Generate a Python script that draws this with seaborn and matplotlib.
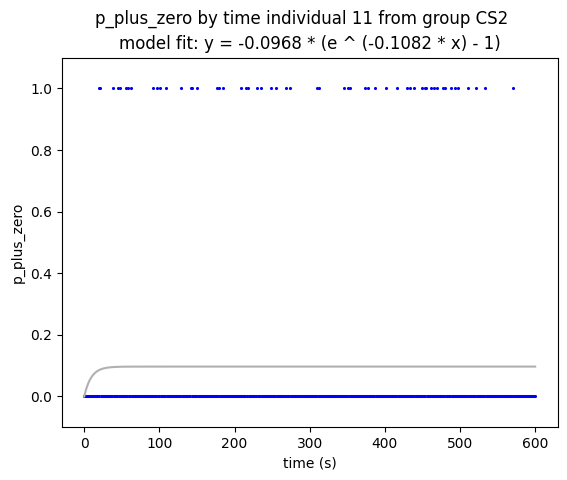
import numpy as np
import pandas as pd
import seaborn as sns
import matplotlib

matplotlib.use("Agg")
import matplotlib.pyplot as plt

# sampling grid (s) and the times where p_plus_zero was 1
time_s = np.arange(0, 601)
event_times = [19, 21, 38, 45, 47, 55, 58, 62, 92, 97, 101, 109, 129, 142, 144,
               150, 176, 179, 185, 208, 215, 218, 230, 235, 249, 255, 269, 274,
               310, 313, 346, 351, 353, 374, 378, 387, 401, 416, 429, 433, 439,
               449, 453, 455, 462, 466, 470, 477, 480, 488, 493, 497, 510, 521,
               533, 571]

# fitted model parameters (from the title)
fit_a = -0.0968
fit_b = -0.1082

df = pd.DataFrame({"time (s)": time_s})
df["p_plus_zero"] = df["time (s)"].isin(event_times).astype(float)
df["fit"] = fit_a * (np.exp(fit_b * df["time (s)"]) - 1)

fig = plt.figure(figsize=(5.67, 4.8), dpi=100)
ax = fig.add_axes([0.1088, 0.11, 0.8748, 0.77])

sns.lineplot(data=df, x="time (s)", y="fit", color="#b0b0b0", linewidth=1.5, ax=ax)
sns.scatterplot(data=df, x="time (s)", y="p_plus_zero", color="blue", s=5,
                linewidth=0, ax=ax)

ax.set_ylim(-0.1, 1.1)
ax.set_xlabel("time (s)")
ax.set_ylabel("p_plus_zero")
fig.suptitle("p_plus_zero by time individual 11 from group CS2", x=0.532, y=0.98)
ax.set_title("model fit: y = -0.0968 * (e ^ (-0.1082 * x) - 1)")

fig.savefig("out.png", dpi=100)
